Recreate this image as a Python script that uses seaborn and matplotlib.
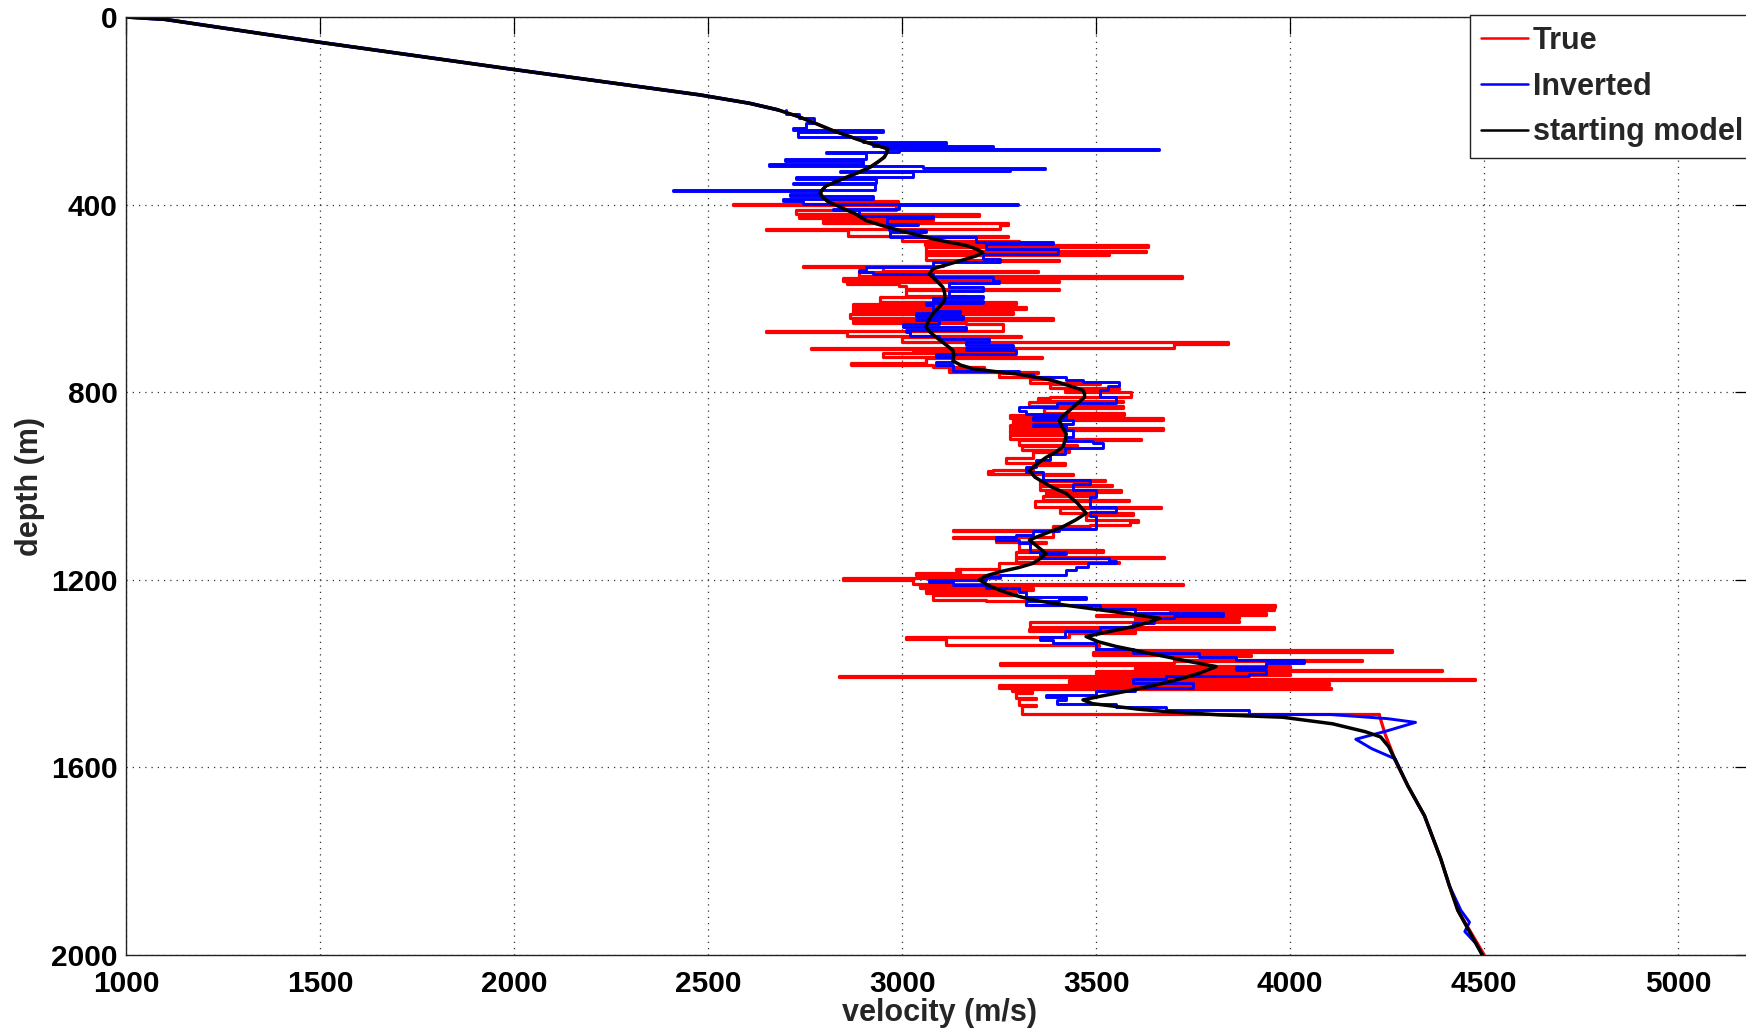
import numpy as np
import matplotlib
matplotlib.use("Agg")
import matplotlib.pyplot as plt
import seaborn as sns
from matplotlib.lines import Line2D

# ---------------- data ----------------
# starting model (smooth)
start_depth = [0, 5, 54, 112, 166, 184, 198, 213, 228, 242, 255, 267, 281, 290, 299, 310, 321, 332, 342, 351,
               360, 368, 375, 384, 393, 407, 420, 434, 445, 455, 464, 473, 480, 487, 495, 502, 509, 516, 527, 537,
               548, 562, 576, 590, 605, 619, 633, 647, 661, 672, 683, 697, 711, 722, 733, 742, 750, 756, 761, 768,
               775, 786, 796, 804, 811, 825, 839, 850, 860, 874, 889, 903, 917, 928, 939, 953, 967, 981, 987, 1002,
               1016, 1037, 1058, 1072, 1087, 1101, 1115, 1130, 1144, 1155, 1165, 1174, 1183, 1192, 1200, 1211, 1222,
               1233, 1243, 1254, 1264, 1273, 1282, 1291, 1300, 1311, 1321, 1332, 1342, 1353, 1364, 1375, 1385, 1398,
               1410, 1423, 1435, 1446, 1456, 1464, 1470, 1476, 1481, 1485, 1488, 1493, 1507, 1524, 1535, 1556, 1585,
               1639, 1703, 1795, 1852, 1905, 2000]
start_vel = [1000, 1100, 1500, 2000, 2478, 2607, 2680, 2735, 2780, 2821, 2865, 2907, 2963, 2960, 2954, 2936, 2916,
             2886, 2856, 2830, 2804, 2795, 2789, 2795, 2808, 2845, 2880, 2907, 2950, 2993, 3035, 3079, 3120, 3165,
             3192, 3208, 3192, 3165, 3120, 3079, 3070, 3088, 3105, 3110, 3109, 3095, 3079, 3068, 3062, 3072, 3088,
             3110, 3131, 3133, 3131, 3150, 3182, 3240, 3294, 3345, 3388, 3430, 3466, 3470, 3470, 3450, 3431, 3415,
             3405, 3412, 3423, 3420, 3414, 3395, 3371, 3348, 3328, 3342, 3354, 3385, 3423, 3452, 3474, 3448, 3414,
             3370, 3328, 3350, 3371, 3355, 3337, 3300, 3251, 3215, 3199, 3220, 3251, 3290, 3337, 3420, 3509, 3590,
             3663, 3635, 3594, 3530, 3474, 3505, 3551, 3615, 3680, 3745, 3809, 3770, 3723, 3660, 3594, 3525, 3466,
             3490, 3551, 3610, 3680, 3760, 3818, 3980, 4109, 4194, 4233, 4254, 4271, 4303, 4346, 4388, 4410, 4432,
             4495]

# true model: blocky part (velocity of each layer, depth of each layer top)
true_block_depth = [390, 393, 398, 401, 411, 414, 421, 424, 429, 432, 440, 443, 452, 455, 466, 469, 477, 480, 487,
                    490, 498, 501, 505, 508, 518, 521, 530, 533, 541, 544, 553, 556, 562, 565, 570, 573, 580, 583,
                    594, 597, 608, 611, 619, 622, 630, 633, 642, 645, 652, 655, 669, 672, 680, 683, 694, 697, 705,
                    708, 713, 716, 725, 728, 738, 741, 747, 750, 757, 760, 768, 771, 780, 783, 790, 793, 800, 803,
                    810, 813, 818, 821, 830, 833, 845, 848, 856, 859, 866, 869, 877, 880, 888, 891, 899, 902, 912,
                    915, 924, 927, 941, 944, 952, 955, 966, 969, 974, 977, 987, 990, 998, 1001, 1009, 1012, 1019,
                    1022, 1030, 1033, 1044, 1047, 1058, 1061, 1073, 1076, 1083, 1086, 1094, 1097, 1108, 1111, 1119,
                    1122, 1137, 1140, 1151, 1154, 1161, 1164, 1176, 1179, 1186, 1189, 1197, 1200, 1208, 1211, 1218,
                    1221, 1229, 1232, 1243, 1246, 1254, 1257, 1262, 1265, 1271, 1274, 1278, 1281, 1288, 1291, 1301,
                    1304, 1310, 1313, 1323, 1326, 1339, 1342, 1350, 1353, 1360, 1363, 1370, 1373, 1378, 1381, 1384,
                    1387, 1392, 1395, 1400, 1403, 1406, 1408, 1411, 1414, 1421, 1424, 1430, 1433, 1438, 1441, 1452,
                    1455, 1467, 1470, 1487]
true_block_vel = [2808, 2989, 2564, 2985, 2727, 2727, 3199, 2735, 3079, 2796, 3272, 3251, 2650, 2860, 3273, 3000,
                  3300, 3060, 3633, 3062, 3629, 3062, 3534, 3062, 3404, 3105, 2744, 2950, 3350, 2890, 3721, 2847,
                  3405, 2857, 2993, 3010, 3405, 3010, 3165, 2942, 3294, 2874, 3320, 2874, 3285, 2865, 3388, 2874,
                  3165, 3259, 2650, 2857, 3306, 3000, 3839, 3700, 2765, 3027, 3290, 2950, 3360, 3062, 2869, 3080,
                  3210, 3120, 3350, 3250, 3380, 3330, 3509, 3380, 3560, 3420, 3590, 3590, 3380, 3350, 3570, 3328,
                  3569, 3365, 3573, 3277, 3672, 3285, 3400, 3277, 3672, 3277, 3420, 3277, 3616, 3300, 3450, 3310,
                  3430, 3337, 3268, 3268, 3420, 3337, 3233, 3221, 3440, 3363, 3522, 3355, 3541, 3355, 3564, 3372,
                  3500, 3363, 3585, 3342, 3667, 3406, 3595, 3475, 3608, 3587, 3484, 3388, 3130, 3388, 3130, 3242,
                  3371, 3302, 3517, 3293, 3676, 3293, 3560, 3250, 3140, 3148, 3036, 3251, 2847, 3027, 3723, 3045,
                  3337, 3062, 3294, 3079, 3216, 3320, 3960, 3500, 3959, 3690, 3937, 3500, 3869, 3600, 3869, 3330,
                  3959, 3326, 3600, 3430, 3010, 3113, 3508, 3500, 4263, 3491, 3900, 3700, 4186, 3700, 3251, 3600,
                  4000, 3600, 4391, 3500, 4000, 3700, 2838, 3700, 4477, 3430, 4100, 3250, 4104, 3284, 3335, 3293,
                  3345, 3302, 3345, 3310, 4229]
# true model: deep linear part
true_deep_depth = [1487, 1530, 1585, 1639, 1703, 1795, 1852, 1905, 2000]
true_deep_vel = [4229, 4245, 4271, 4303, 4346, 4388, 4410, 4432, 4500]

# inverted model: layered part
inv_block_depth = [198, 206, 216, 226, 236, 242, 245, 256, 259, 267, 270, 276, 279, 281, 284, 288, 291, 303, 306,
                   314, 317, 321, 324, 328, 331, 342, 345, 353, 356, 368, 371, 378, 381, 389, 392, 398, 401, 409,
                   412, 425, 428, 441, 444, 455, 458, 470, 480, 483, 494, 505, 516, 522, 534, 540, 544, 548, 555,
                   562, 568, 576, 585, 594, 600, 605, 610, 615, 626, 632, 637, 643, 647, 655, 661, 667, 672, 680,
                   686, 694, 700, 706, 711, 718, 725, 735, 743, 748, 754, 762, 768, 774, 779, 786, 796, 811, 822,
                   832, 840, 846, 853, 860, 867, 872, 881, 895, 903, 909, 918, 931, 945, 959, 970, 987, 995, 1009,
                   1023, 1044, 1055, 1065, 1083, 1092, 1097, 1104, 1108, 1115, 1122, 1140, 1146, 1154, 1160, 1165,
                   1172, 1179, 1190, 1193, 1200, 1204, 1211, 1218, 1225, 1236, 1240, 1246, 1254, 1262, 1271, 1277,
                   1282, 1292, 1300, 1310, 1321, 1328, 1335, 1348, 1357, 1365, 1370, 1378, 1385, 1393, 1400, 1406,
                   1412, 1420, 1430, 1438, 1445, 1450, 1456, 1465, 1472, 1477, 1487]
inv_block_vel = [2700, 2735, 2774, 2753, 2718, 2950, 2731, 2933, 2899, 3113, 2924, 3234, 2959, 3663, 2993, 2804,
                 2907, 2697, 2900, 2658, 3053, 3367, 3277, 2839, 3027, 2727, 2933, 2718, 2929, 2410, 2787, 2710,
                 2924, 2692, 2744, 3298, 2993, 2821, 2890, 3079, 2960, 3040, 2967, 3062, 2970, 3191, 3388, 3216,
                 3401, 3208, 3251, 3079, 2907, 2890, 2924, 3079, 3234, 3250, 3122, 3208, 3122, 3208, 3079, 3208,
                 3062, 3079, 3148, 3036, 3156, 3036, 3096, 3002, 3165, 3010, 3020, 3096, 3225, 3165, 3285, 3165,
                 3294, 3088, 3131, 3088, 3131, 3131, 3302, 3337, 3423, 3466, 3560, 3530, 3509, 3551, 3400, 3302,
                 3320, 3423, 3337, 3440, 3337, 3423, 3440, 3423, 3491, 3517, 3420, 3380, 3345, 3320, 3362, 3483,
                 3440, 3500, 3483, 3551, 3483, 3500, 3500, 3405, 3337, 3294, 3242, 3300, 3330, 3423, 3354, 3534,
                 3551, 3480, 3448, 3423, 3251, 3216, 3070, 3130, 3216, 3300, 3320, 3474, 3405, 3320, 3509, 3600,
                 3826, 3700, 3650, 3594, 3509, 3420, 3354, 3388, 3500, 3594, 3766, 3860, 4036, 3937, 3860, 3937,
                 3895, 3680, 3594, 3750, 3600, 3500, 3371, 3423, 3400, 3550, 3680, 3895, 4100]
# inverted model: deep part
inv_deep_depth = [1487, 1496, 1504, 1522, 1540, 1560, 1582, 1639, 1680, 1703, 1795, 1852, 1905, 1930, 1950, 1975, 2000]
inv_deep_vel = [4100, 4250, 4323, 4250, 4169, 4210, 4271, 4303, 4330, 4346, 4388, 4410, 4440, 4462, 4450, 4478, 4495]

legend_labels = ["True", "Inverted", "starting model"]
x_ticks = [1000, 1500, 2000, 2500, 3000, 3500, 4000, 4500, 5000]
y_ticks = [0, 400, 800, 1200, 1600, 2000]

assert len(true_block_depth) == len(true_block_vel)
assert len(inv_block_depth) == len(inv_block_vel)
assert len(start_depth) == len(start_vel)

# ---------------- style ----------------
sns.set_style("white")
plt.rcParams['font.family'] = ['Liberation Sans', 'DejaVu Sans']
plt.rcParams['font.weight'] = 'bold'
plt.rcParams['axes.labelweight'] = 'bold'

RED, BLUE, BLACK = "#ff0000", "#0000ff", "#000000"

fig = plt.figure(figsize=(17.46, 10.33), dpi=100)
ax = fig.add_axes([126 / 1746, 78 / 1033, 1626 / 1746, 938 / 1033])

sd = np.array(start_depth)
sv = np.array(start_vel)

common = dict(sort=False, estimator=None, ax=ax, legend=False)
# True
sns.lineplot(x=sv[sd <= 393], y=sd[sd <= 393], color=RED, lw=2.3, **common)
sns.lineplot(x=true_block_vel, y=true_block_depth, color=RED, lw=2.3, drawstyle="steps-pre", **common)
sns.lineplot(x=true_deep_vel, y=true_deep_depth, color=RED, lw=2.3, **common)
# Inverted
sns.lineplot(x=sv[sd <= 198], y=sd[sd <= 198], color=BLUE, lw=2.6, **common)
sns.lineplot(x=inv_block_vel, y=inv_block_depth, color=BLUE, lw=2.1, drawstyle="steps-pre", **common)
sns.lineplot(x=inv_deep_vel, y=inv_deep_depth, color=BLUE, lw=2.1, **common)
# starting model
sns.lineplot(x=start_vel, y=start_depth, color=BLACK, lw=2.5, **common)

ax.set_xlim(1000, 5190)
ax.set_ylim(2000, 0)
ax.set_xticks(x_ticks)
ax.set_yticks(y_ticks)
ax.grid(True, linestyle=(0, (1, 4)), color="#333333", linewidth=0.9)
ax.tick_params(axis="both", direction="in", length=12, width=0.9, top=True, right=True,
               labelsize=21.5, colors="black")
ax.tick_params(axis="x", pad=11)
ax.tick_params(axis="y", pad=6)
for s in ax.spines.values():
    s.set_color("#222222")
    s.set_linewidth(1.0)

ax.set_xlabel("velocity (m/s)", fontsize=22, labelpad=0)
ax.set_ylabel("depth (m)", fontsize=22, labelpad=4)

handles = [Line2D([], [], color=c, lw=1.8) for c in (RED, BLUE, BLACK)]
leg = fig.legend(handles, legend_labels, loc="upper left",
                 bbox_to_anchor=(1470 / 1746, 1 - 15 / 1033), bbox_transform=fig.transFigure,
                 fontsize=22, frameon=True, fancybox=False, framealpha=1, edgecolor="#222222",
                 handlelength=1.55, handletextpad=0.15, labelspacing=0.52, borderpad=0.35,
                 borderaxespad=0)
leg.get_frame().set_linewidth(1.0)

fig.savefig("out.png", dpi=100)
